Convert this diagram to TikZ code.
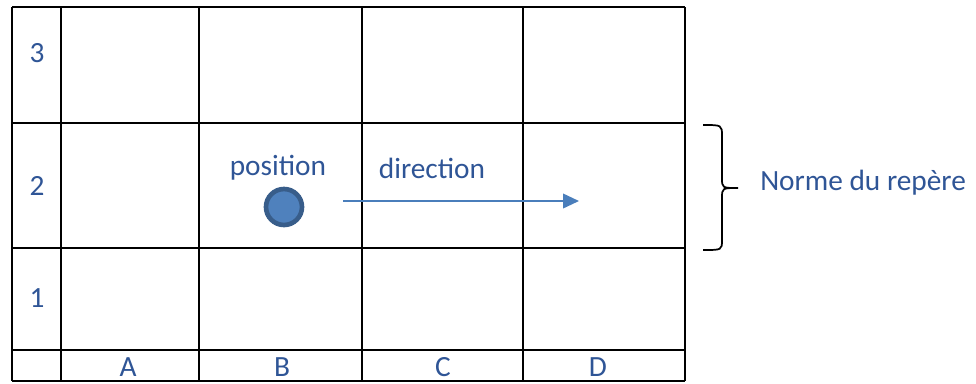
\documentclass[tikz,border=0pt]{standalone}
\usepackage{fontspec}
\setmainfont{Carlito}
\usetikzlibrary{arrows.meta}
\definecolor{txtblue}{RGB}{47,85,150}
\definecolor{arrblue}{RGB}{74,126,187}
\definecolor{dotfill}{RGB}{79,129,189}
\definecolor{dotedge}{RGB}{56,93,138}
\tikzset{
  gridline/.style={line width=1.5pt, black},
  lbl/.style={text=txtblue, font=\fontsize{22}{26}\selectfont, inner sep=0pt},
}
\begin{document}
\begin{tikzpicture}[x=0.75pt,y=-0.75pt]
\useasboundingbox (0,0) rectangle (976,383);
% grid
\foreach \yy in {7,123,248,350,381} \draw[gridline] (12,\yy) -- (685,\yy);
\foreach \xx in {12,61,199,362,523,685} \draw[gridline] (\xx,7) -- (\xx,381);
% row labels
\node[lbl] (r3) at (37,53) {3};
\node[lbl] (r2) at (37,186) {2};
\node[lbl] (r1) at (37,298) {1};
% column labels
\node[lbl] (cA) at (128,367) {A};
\node[lbl] (cB) at (282,367) {B};
\node[lbl] (cC) at (443,367) {C};
\node[lbl] (cD) at (598,367) {D};
% position / direction
\node[lbl] (tpos) at (278,168) {position};
\node[lbl] (tdir) at (432,168) {direction};
\node[circle, draw=dotedge, line width=3.5pt, fill=dotfill, minimum size=27pt, inner sep=0pt] (pos) at (284,207) {};
\coordinate (as) at (343,201);
\coordinate (ae) at (579,201);
\draw[arrblue, line width=1.3pt, -{Triangle[length=12pt,width=11pt]}] (as) -- (ae);
% brace
\coordinate (bt) at (703,125);
\coordinate (bm) at (738,188);
\coordinate (bb) at (703,250);
\draw[line width=1.3pt] (bt) .. controls (722,125) .. (722,136) -- (722,178)
  .. controls (722,188) .. (bm)
  .. controls (722,188) .. (722,198) -- (722,240)
  .. controls (722,250) .. (bb);
\node[lbl, anchor=west] (norme) at (760,183) {Norme du repère};
\end{tikzpicture}
\end{document}
